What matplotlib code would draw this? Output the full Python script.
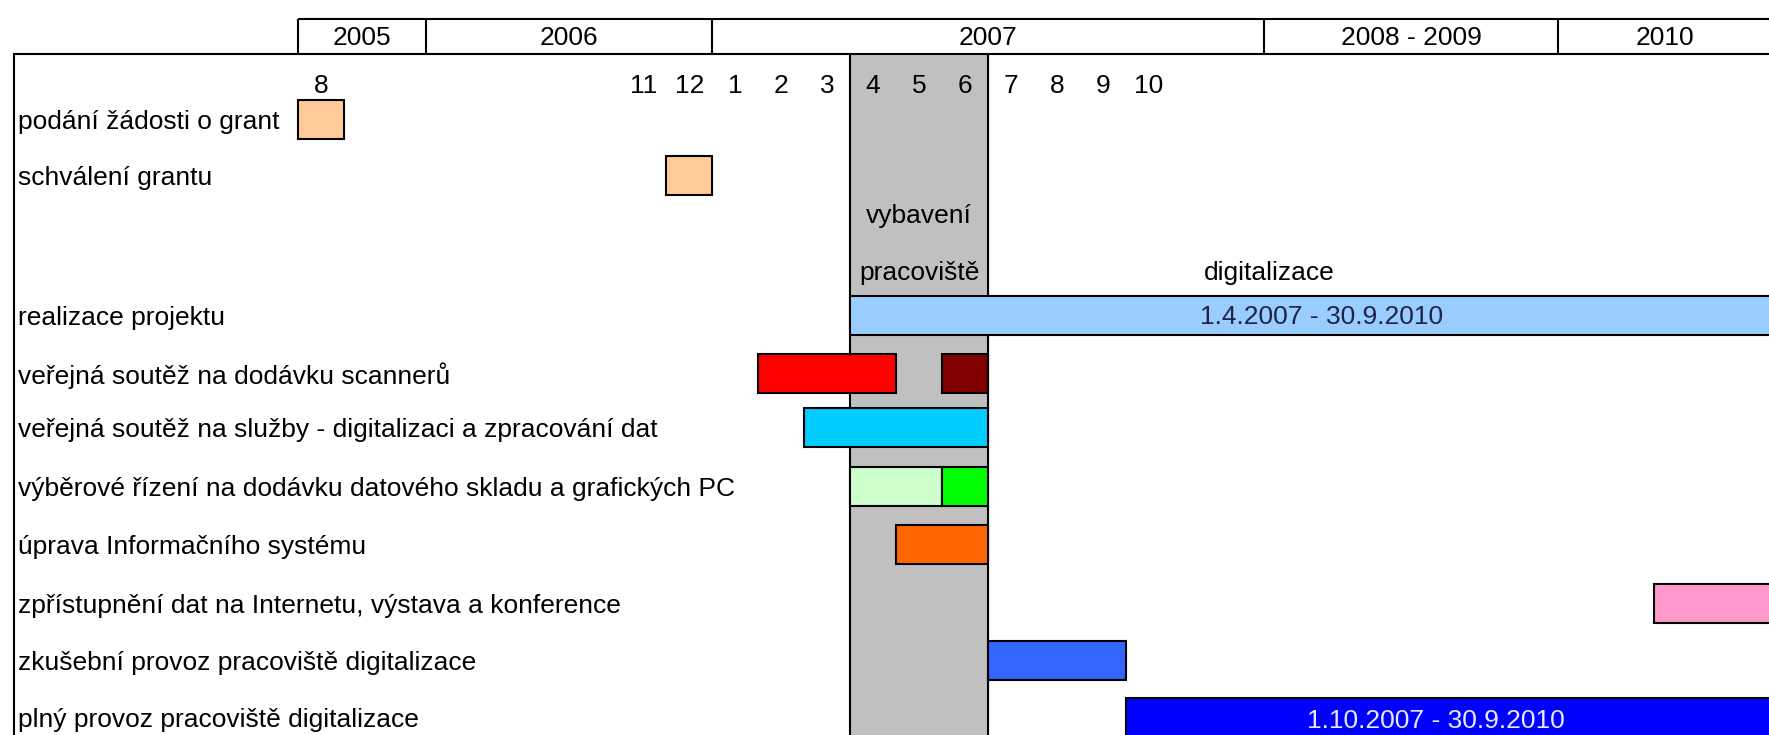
import numpy as np
import matplotlib
matplotlib.use("Agg")
import matplotlib.pyplot as plt

# months counted from Jan 2005 (0 = leden 2005)
def ym(year, month):
    return (year - 2005) * 12 + (month - 1)

task_labels = [
    "podání žádosti o grant",
    "schválení grantu",
    "",
    "",
    "realizace projektu",
    "veřejná soutěž na dodávku scannerů",
    "veřejná soutěž na služby - digitalizaci a zpracování dat",
    "výběrové řízení na dodávku datového skladu a grafických PC",
    "úprava Informačního systému",
    "zpřístupnění dat na Internetu, výstava a konference",
    "zkušební provoz pracoviště digitalizace",
    "plný provoz pracoviště digitalizace",
]

# bars: task row, start month, end month (exclusive), colour
bar_row = [0, 1, 4, 5, 5, 6, 7, 7, 8, 9, 10, 11]
bar_start = [ym(2005, 8), ym(2006, 12), ym(2007, 4), ym(2007, 2), ym(2007, 6),
             ym(2007, 3), ym(2007, 4), ym(2007, 6), ym(2007, 5), ym(2010, 5),
             ym(2007, 7), ym(2007, 10)]
bar_end = [ym(2005, 9), ym(2007, 1), ym(2010, 10), ym(2007, 5), ym(2007, 7),
           ym(2007, 7), ym(2007, 6), ym(2007, 7), ym(2007, 7), ym(2010, 10),
           ym(2007, 10), ym(2010, 10)]
bar_color = ["#FFCC99", "#FFCC99", "#99CCFF", "#FF0000", "#800000",
             "#00CCFF", "#CCFFCC", "#00FF00", "#FF6600", "#FF99CC",
             "#3366FF", "#0000FF"]

# header: year cells and month labels
year_labels = ["2005", "2006", "2007", "2008 - 2009", "2010"]
year_edges = [ym(2005, 8), ym(2006, 1), ym(2007, 1), ym(2008, 1), ym(2010, 1), ym(2010, 10)]
month_pos = [ym(2005, 8), ym(2006, 11), ym(2006, 12)] + [ym(2007, k) for k in range(1, 11)]
month_text = ["8", "11", "12"] + [str(k) for k in range(1, 11)]

equip_phase = (ym(2007, 4), ym(2007, 7))  # vybavení pracoviště

# compressed time axis (like the excel sheet: months before 11/2006 and after 2007 squeezed)
bp_m = [-5, 7, 8, 12, 22, 24, 27, 36, 60, 69]
bp_u = [-18.49, -12, -11, -9.22, -5, -3, 0, 9, 15.4, 20.06]

def fwd(m):
    return np.interp(m, bp_m, bp_u)

def inv(u):
    return np.interp(u, bp_u, bp_m)

def mid(a, b):
    return float(inv((fwd(a) + fwd(b)) / 2))

# layout (pixels from top)
row_y = [119, 175, 216, 270, 315, 373, 427, 486, 544, 603, 660, 717]
bar_h = 39
head_top, head_bot = 19, 54
month_y = 86
left_x = 14 / 1769  # left frame line, axes fraction

plt.rcParams['font.family'] = ['Liberation Sans Narrow', 'Liberation Sans', 'DejaVu Sans']
FS = 19

fig = plt.figure(figsize=(17.69, 7.35), dpi=100)
ax = fig.add_axes([0, 0, 1, 1])
ax.set_xscale('function', functions=(fwd, inv))
ax.set_xlim(-5, 68.85)
ax.set_ylim(735, 0)
ax.axis('off')
blend = matplotlib.transforms.blended_transform_factory(ax.transAxes, ax.transData)

# gray band for the equipment phase
ax.fill_betweenx([head_bot, 735], equip_phase[0], equip_phase[1], color="#C0C0C0", zorder=0)
ax.vlines(equip_phase, head_bot, 735, color="black", lw=1.5, zorder=1)

# bars
for r, s, e, c in zip(bar_row, bar_start, bar_end, bar_color):
    ax.barh(row_y[r], e - s, left=s, height=bar_h, color=c, edgecolor="black",
            linewidth=1.5, zorder=2)

# header frame
ax.hlines(head_top, year_edges[0], 69, color="black", lw=1.5)
ax.vlines(year_edges[:-1], head_top, head_bot, color="black", lw=1.5)
ax.plot([left_x, 1], [head_bot, head_bot], color="black", lw=1.5, transform=blend)
ax.plot([left_x, left_x], [head_bot, 735], color="black", lw=1.5, transform=blend)

for lab, a, b in zip(year_labels, year_edges[:-1], year_edges[1:]):
    ax.text(mid(a, b), (head_top + head_bot) / 2 + 1, lab, ha="center", va="center", fontsize=FS)

for pos, t in zip(month_pos, month_text):
    ax.text(mid(pos, pos + 1), month_y, t, ha="center", va="center", fontsize=FS)

# task labels
for i, lab in enumerate(task_labels):
    ax.text(18 / 1769, row_y[i] + 3, lab, ha="left", va="center", fontsize=FS, transform=blend)

# annotations
ax.text(mid(*equip_phase), 216, "vybavení", ha="center", va="center", fontsize=FS, zorder=3)
ax.text(mid(*equip_phase), row_y[3] + 3, "pracoviště", ha="center", va="center", fontsize=FS, zorder=3)
ax.text(34.7, row_y[3] + 3, "digitalizace", ha="left", va="center", fontsize=FS, zorder=3)
ax.text(34.6, row_y[4] + 2, "1.4.2007 - 30.9.2010", ha="left", va="center", fontsize=FS,
        color="#222244", zorder=3)
ax.text(50.0, row_y[11] + 4, "1.10.2007 - 30.9.2010", ha="center", va="center", fontsize=FS,
        color="#E8E8FF", zorder=3)

fig.savefig("out.png", dpi=100)
